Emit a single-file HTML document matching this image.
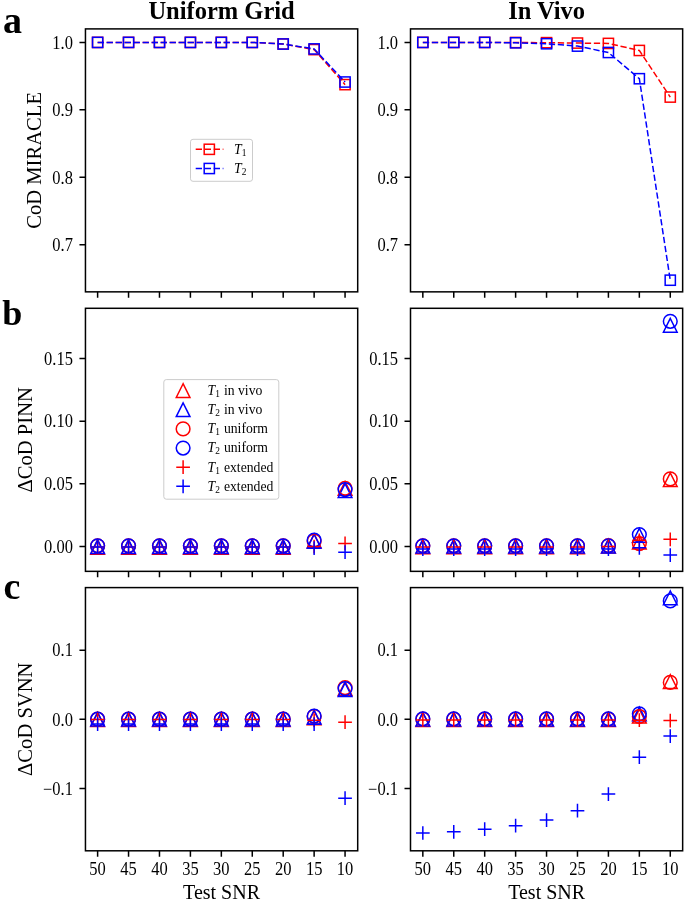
<!DOCTYPE html>
<html><head><meta charset="utf-8"><style>html,body{margin:0;padding:0;background:#fff;}svg{display:block;font-family:"Liberation Serif",serif;will-change:transform;}</style></head><body>
<svg width="685" height="902" viewBox="0 0 685 902" font-family="Liberation Serif, serif">
<rect width="685" height="902" fill="#fff"/>
<text x="221.55" y="18.9" font-size="24.5" font-weight="bold" text-anchor="middle">Uniform Grid</text>
<text x="546.65" y="18.9" font-size="24.5" font-weight="bold" text-anchor="middle">In Vivo</text>
<text x="3" y="33.2" font-size="38" font-weight="bold">a</text>
<text x="2.3" y="325" font-size="36" font-weight="bold">b</text>
<text x="3.6" y="598.6" font-size="38" font-weight="bold">c</text>
<text transform="translate(41.2 160.4) rotate(-90)" font-size="20.6" text-anchor="middle">CoD MIRACLE</text>
<text transform="translate(32.4 439.8) rotate(-90)" font-size="20.6" text-anchor="middle">ΔCoD PINN</text>
<text transform="translate(32.4 719.2) rotate(-90)" font-size="20.6" text-anchor="middle">ΔCoD SVNN</text>
<text x="221.55" y="899.4" font-size="20" text-anchor="middle">Test SNR</text>
<text x="546.65" y="899.4" font-size="20" text-anchor="middle">Test SNR</text>
<clipPath id="aL"><rect x="85.45" y="28.9" width="272.25" height="262.95"/></clipPath>
<clipPath id="aR"><rect x="410.5" y="28.9" width="272.15" height="262.95"/></clipPath>
<clipPath id="bL"><rect x="85.45" y="308.3" width="272.25" height="263.05"/></clipPath>
<clipPath id="bR"><rect x="410.5" y="308.3" width="272.15" height="263.05"/></clipPath>
<clipPath id="cL"><rect x="85.45" y="587.6" width="272.25" height="263.2"/></clipPath>
<clipPath id="cR"><rect x="410.5" y="587.6" width="272.15" height="263.2"/></clipPath>
<g clip-path="url(#aL)">
<polyline points="97.62,42.4 128.55,42.4 159.48,42.4 190.41,42.4 221.34,42.4 252.27,42.4 283.2,44.01 314.13,49.6 345.06,84.63" fill="none" stroke="#ff0000" stroke-width="1.5" stroke-dasharray="6.3 2.7"/>
<rect x="92.52" y="37.3" width="10.2" height="10.2" fill="none" stroke="#ff0000" stroke-width="1.5"/>
<rect x="123.45" y="37.3" width="10.2" height="10.2" fill="none" stroke="#ff0000" stroke-width="1.5"/>
<rect x="154.38" y="37.3" width="10.2" height="10.2" fill="none" stroke="#ff0000" stroke-width="1.5"/>
<rect x="185.31" y="37.3" width="10.2" height="10.2" fill="none" stroke="#ff0000" stroke-width="1.5"/>
<rect x="216.24" y="37.3" width="10.2" height="10.2" fill="none" stroke="#ff0000" stroke-width="1.5"/>
<rect x="247.17" y="37.3" width="10.2" height="10.2" fill="none" stroke="#ff0000" stroke-width="1.5"/>
<rect x="278.1" y="38.91" width="10.2" height="10.2" fill="none" stroke="#ff0000" stroke-width="1.5"/>
<rect x="309.03" y="44.5" width="10.2" height="10.2" fill="none" stroke="#ff0000" stroke-width="1.5"/>
<rect x="339.96" y="79.53" width="10.2" height="10.2" fill="none" stroke="#ff0000" stroke-width="1.5"/>
<polyline points="97.62,42.4 128.55,42.4 159.48,42.4 190.41,42.4 221.34,42.4 252.27,42.4 283.2,44.01 314.13,48.92 345.06,82.01" fill="none" stroke="#0000ff" stroke-width="1.5" stroke-dasharray="6.3 2.7"/>
<rect x="92.52" y="37.3" width="10.2" height="10.2" fill="none" stroke="#0000ff" stroke-width="1.5"/>
<rect x="123.45" y="37.3" width="10.2" height="10.2" fill="none" stroke="#0000ff" stroke-width="1.5"/>
<rect x="154.38" y="37.3" width="10.2" height="10.2" fill="none" stroke="#0000ff" stroke-width="1.5"/>
<rect x="185.31" y="37.3" width="10.2" height="10.2" fill="none" stroke="#0000ff" stroke-width="1.5"/>
<rect x="216.24" y="37.3" width="10.2" height="10.2" fill="none" stroke="#0000ff" stroke-width="1.5"/>
<rect x="247.17" y="37.3" width="10.2" height="10.2" fill="none" stroke="#0000ff" stroke-width="1.5"/>
<rect x="278.1" y="38.91" width="10.2" height="10.2" fill="none" stroke="#0000ff" stroke-width="1.5"/>
<rect x="309.03" y="43.82" width="10.2" height="10.2" fill="none" stroke="#0000ff" stroke-width="1.5"/>
<rect x="339.96" y="76.91" width="10.2" height="10.2" fill="none" stroke="#0000ff" stroke-width="1.5"/>
</g>
<rect x="85.45" y="28.9" width="272.25" height="262.95" fill="none" stroke="#000" stroke-width="1.5" stroke-linejoin="miter"/>
<path d="M97.62 291.85V297.85M128.55 291.85V297.85M159.48 291.85V297.85M190.41 291.85V297.85M221.34 291.85V297.85M252.27 291.85V297.85M283.2 291.85V297.85M314.13 291.85V297.85M345.06 291.85V297.85" stroke="#000" stroke-width="1.5" fill="none"/>
<path d="M79.45 42.4H85.45M79.45 109.85H85.45M79.45 177.3H85.45M79.45 244.75H85.45" stroke="#000" stroke-width="1.5" fill="none"/>
<text transform="translate(72.95 48.6) scale(1 1.09)" font-size="16.5" text-anchor="end">1.0</text>
<text transform="translate(72.95 116.05) scale(1 1.09)" font-size="16.5" text-anchor="end">0.9</text>
<text transform="translate(72.95 183.5) scale(1 1.09)" font-size="16.5" text-anchor="end">0.8</text>
<text transform="translate(72.95 250.95) scale(1 1.09)" font-size="16.5" text-anchor="end">0.7</text>
<g clip-path="url(#aR)">
<polyline points="422.83,42.4 453.76,42.4 484.69,42.4 515.62,42.53 546.55,42.67 577.48,43.07 608.41,43.41 639.34,50.47 670.27,97.07" fill="none" stroke="#ff0000" stroke-width="1.5" stroke-dasharray="6.3 2.7"/>
<rect x="417.73" y="37.3" width="10.2" height="10.2" fill="none" stroke="#ff0000" stroke-width="1.5"/>
<rect x="448.66" y="37.3" width="10.2" height="10.2" fill="none" stroke="#ff0000" stroke-width="1.5"/>
<rect x="479.59" y="37.3" width="10.2" height="10.2" fill="none" stroke="#ff0000" stroke-width="1.5"/>
<rect x="510.52" y="37.43" width="10.2" height="10.2" fill="none" stroke="#ff0000" stroke-width="1.5"/>
<rect x="541.45" y="37.57" width="10.2" height="10.2" fill="none" stroke="#ff0000" stroke-width="1.5"/>
<rect x="572.38" y="37.97" width="10.2" height="10.2" fill="none" stroke="#ff0000" stroke-width="1.5"/>
<rect x="603.31" y="38.31" width="10.2" height="10.2" fill="none" stroke="#ff0000" stroke-width="1.5"/>
<rect x="634.24" y="45.37" width="10.2" height="10.2" fill="none" stroke="#ff0000" stroke-width="1.5"/>
<rect x="665.17" y="91.97" width="10.2" height="10.2" fill="none" stroke="#ff0000" stroke-width="1.5"/>
<polyline points="422.83,42.4 453.76,42.4 484.69,42.4 515.62,42.8 546.55,43.74 577.48,46.1 608.41,52.49 639.34,78.72 670.27,280.2" fill="none" stroke="#0000ff" stroke-width="1.5" stroke-dasharray="6.3 2.7"/>
<rect x="417.73" y="37.3" width="10.2" height="10.2" fill="none" stroke="#0000ff" stroke-width="1.5"/>
<rect x="448.66" y="37.3" width="10.2" height="10.2" fill="none" stroke="#0000ff" stroke-width="1.5"/>
<rect x="479.59" y="37.3" width="10.2" height="10.2" fill="none" stroke="#0000ff" stroke-width="1.5"/>
<rect x="510.52" y="37.7" width="10.2" height="10.2" fill="none" stroke="#0000ff" stroke-width="1.5"/>
<rect x="541.45" y="38.64" width="10.2" height="10.2" fill="none" stroke="#0000ff" stroke-width="1.5"/>
<rect x="572.38" y="41" width="10.2" height="10.2" fill="none" stroke="#0000ff" stroke-width="1.5"/>
<rect x="603.31" y="47.39" width="10.2" height="10.2" fill="none" stroke="#0000ff" stroke-width="1.5"/>
<rect x="634.24" y="73.62" width="10.2" height="10.2" fill="none" stroke="#0000ff" stroke-width="1.5"/>
<rect x="665.17" y="275.1" width="10.2" height="10.2" fill="none" stroke="#0000ff" stroke-width="1.5"/>
</g>
<rect x="410.5" y="28.9" width="272.15" height="262.95" fill="none" stroke="#000" stroke-width="1.5" stroke-linejoin="miter"/>
<path d="M422.83 291.85V297.85M453.76 291.85V297.85M484.69 291.85V297.85M515.62 291.85V297.85M546.55 291.85V297.85M577.48 291.85V297.85M608.41 291.85V297.85M639.34 291.85V297.85M670.27 291.85V297.85" stroke="#000" stroke-width="1.5" fill="none"/>
<path d="M404.5 42.4H410.5M404.5 109.85H410.5M404.5 177.3H410.5M404.5 244.75H410.5" stroke="#000" stroke-width="1.5" fill="none"/>
<text transform="translate(398 48.6) scale(1 1.09)" font-size="16.5" text-anchor="end">1.0</text>
<text transform="translate(398 116.05) scale(1 1.09)" font-size="16.5" text-anchor="end">0.9</text>
<text transform="translate(398 183.5) scale(1 1.09)" font-size="16.5" text-anchor="end">0.8</text>
<text transform="translate(398 250.95) scale(1 1.09)" font-size="16.5" text-anchor="end">0.7</text>
<rect x="190.5" y="139.3" width="62" height="42" rx="2.5" fill="#fff" fill-opacity="0.8" stroke="#cccccc" stroke-width="1"/>
<line x1="195.7" y1="149.3" x2="223.4" y2="149.3" stroke="#ff0000" stroke-width="1.5" stroke-dasharray="6.3 2.7"/>
<rect x="204.2" y="144.2" width="10.2" height="10.2" fill="none" stroke="#ff0000" stroke-width="1.5"/>
<text x="234" y="153.9" font-size="13.7" font-style="italic">T<tspan font-style="normal" font-size="9.4" dy="1.9">1</tspan></text>
<line x1="195.7" y1="168.5" x2="223.4" y2="168.5" stroke="#0000ff" stroke-width="1.5" stroke-dasharray="6.3 2.7"/>
<rect x="204.2" y="163.4" width="10.2" height="10.2" fill="none" stroke="#0000ff" stroke-width="1.5"/>
<text x="234" y="173.1" font-size="13.7" font-style="italic">T<tspan font-style="normal" font-size="9.4" dy="1.9">2</tspan></text>
<g clip-path="url(#bL)">
<path d="M97.62 540.45L90.77 554.15H104.47Z" fill="none" stroke="#ff0000" stroke-width="1.5" stroke-linejoin="miter"/>
<path d="M128.55 540.45L121.7 554.15H135.4Z" fill="none" stroke="#ff0000" stroke-width="1.5" stroke-linejoin="miter"/>
<path d="M159.48 540.45L152.63 554.15H166.33Z" fill="none" stroke="#ff0000" stroke-width="1.5" stroke-linejoin="miter"/>
<path d="M190.41 540.45L183.56 554.15H197.26Z" fill="none" stroke="#ff0000" stroke-width="1.5" stroke-linejoin="miter"/>
<path d="M221.34 540.45L214.49 554.15H228.19Z" fill="none" stroke="#ff0000" stroke-width="1.5" stroke-linejoin="miter"/>
<path d="M252.27 540.45L245.42 554.15H259.12Z" fill="none" stroke="#ff0000" stroke-width="1.5" stroke-linejoin="miter"/>
<path d="M283.2 540.45L276.35 554.15H290.05Z" fill="none" stroke="#ff0000" stroke-width="1.5" stroke-linejoin="miter"/>
<path d="M314.13 534.2L307.28 547.9H320.98Z" fill="none" stroke="#ff0000" stroke-width="1.5" stroke-linejoin="miter"/>
<path d="M345.06 481.57L338.21 495.27H351.91Z" fill="none" stroke="#ff0000" stroke-width="1.5" stroke-linejoin="miter"/>
<path d="M97.62 539.7L90.77 553.4H104.47Z" fill="none" stroke="#0000ff" stroke-width="1.5" stroke-linejoin="miter"/>
<path d="M128.55 539.7L121.7 553.4H135.4Z" fill="none" stroke="#0000ff" stroke-width="1.5" stroke-linejoin="miter"/>
<path d="M159.48 539.7L152.63 553.4H166.33Z" fill="none" stroke="#0000ff" stroke-width="1.5" stroke-linejoin="miter"/>
<path d="M190.41 539.7L183.56 553.4H197.26Z" fill="none" stroke="#0000ff" stroke-width="1.5" stroke-linejoin="miter"/>
<path d="M221.34 539.7L214.49 553.4H228.19Z" fill="none" stroke="#0000ff" stroke-width="1.5" stroke-linejoin="miter"/>
<path d="M252.27 539.7L245.42 553.4H259.12Z" fill="none" stroke="#0000ff" stroke-width="1.5" stroke-linejoin="miter"/>
<path d="M283.2 539.7L276.35 553.4H290.05Z" fill="none" stroke="#0000ff" stroke-width="1.5" stroke-linejoin="miter"/>
<path d="M314.13 534.2L307.28 547.9H320.98Z" fill="none" stroke="#0000ff" stroke-width="1.5" stroke-linejoin="miter"/>
<path d="M345.06 483.7L338.21 497.4H351.91Z" fill="none" stroke="#0000ff" stroke-width="1.5" stroke-linejoin="miter"/>
<circle cx="97.62" cy="545.8" r="6.85" fill="none" stroke="#ff0000" stroke-width="1.5"/>
<circle cx="128.55" cy="545.8" r="6.85" fill="none" stroke="#ff0000" stroke-width="1.5"/>
<circle cx="159.48" cy="545.8" r="6.85" fill="none" stroke="#ff0000" stroke-width="1.5"/>
<circle cx="190.41" cy="545.8" r="6.85" fill="none" stroke="#ff0000" stroke-width="1.5"/>
<circle cx="221.34" cy="545.8" r="6.85" fill="none" stroke="#ff0000" stroke-width="1.5"/>
<circle cx="252.27" cy="545.8" r="6.85" fill="none" stroke="#ff0000" stroke-width="1.5"/>
<circle cx="283.2" cy="545.8" r="6.85" fill="none" stroke="#ff0000" stroke-width="1.5"/>
<circle cx="314.13" cy="541.17" r="6.85" fill="none" stroke="#ff0000" stroke-width="1.5"/>
<circle cx="345.06" cy="488.3" r="6.85" fill="none" stroke="#ff0000" stroke-width="1.5"/>
<circle cx="97.62" cy="545.8" r="6.85" fill="none" stroke="#0000ff" stroke-width="1.5"/>
<circle cx="128.55" cy="545.8" r="6.85" fill="none" stroke="#0000ff" stroke-width="1.5"/>
<circle cx="159.48" cy="545.8" r="6.85" fill="none" stroke="#0000ff" stroke-width="1.5"/>
<circle cx="190.41" cy="545.8" r="6.85" fill="none" stroke="#0000ff" stroke-width="1.5"/>
<circle cx="221.34" cy="545.8" r="6.85" fill="none" stroke="#0000ff" stroke-width="1.5"/>
<circle cx="252.27" cy="545.8" r="6.85" fill="none" stroke="#0000ff" stroke-width="1.5"/>
<circle cx="283.2" cy="545.8" r="6.85" fill="none" stroke="#0000ff" stroke-width="1.5"/>
<circle cx="314.13" cy="540.05" r="6.85" fill="none" stroke="#0000ff" stroke-width="1.5"/>
<circle cx="345.06" cy="489.55" r="6.85" fill="none" stroke="#0000ff" stroke-width="1.5"/>
<path d="M90.77 547.05H104.47M97.62 540.2V553.9" fill="none" stroke="#ff0000" stroke-width="1.5"/>
<path d="M121.7 547.05H135.4M128.55 540.2V553.9" fill="none" stroke="#ff0000" stroke-width="1.5"/>
<path d="M152.63 547.05H166.33M159.48 540.2V553.9" fill="none" stroke="#ff0000" stroke-width="1.5"/>
<path d="M183.56 547.05H197.26M190.41 540.2V553.9" fill="none" stroke="#ff0000" stroke-width="1.5"/>
<path d="M214.49 547.05H228.19M221.34 540.2V553.9" fill="none" stroke="#ff0000" stroke-width="1.5"/>
<path d="M245.42 547.05H259.12M252.27 540.2V553.9" fill="none" stroke="#ff0000" stroke-width="1.5"/>
<path d="M276.35 547.05H290.05M283.2 540.2V553.9" fill="none" stroke="#ff0000" stroke-width="1.5"/>
<path d="M307.28 546.55H320.98M314.13 539.7V553.4" fill="none" stroke="#ff0000" stroke-width="1.5"/>
<path d="M338.21 543.42H351.91M345.06 536.57V550.27" fill="none" stroke="#ff0000" stroke-width="1.5"/>
<path d="M90.77 547.05H104.47M97.62 540.2V553.9" fill="none" stroke="#0000ff" stroke-width="1.5"/>
<path d="M121.7 547.05H135.4M128.55 540.2V553.9" fill="none" stroke="#0000ff" stroke-width="1.5"/>
<path d="M152.63 547.05H166.33M159.48 540.2V553.9" fill="none" stroke="#0000ff" stroke-width="1.5"/>
<path d="M183.56 547.05H197.26M190.41 540.2V553.9" fill="none" stroke="#0000ff" stroke-width="1.5"/>
<path d="M214.49 547.05H228.19M221.34 540.2V553.9" fill="none" stroke="#0000ff" stroke-width="1.5"/>
<path d="M245.42 547.05H259.12M252.27 540.2V553.9" fill="none" stroke="#0000ff" stroke-width="1.5"/>
<path d="M276.35 547.05H290.05M283.2 540.2V553.9" fill="none" stroke="#0000ff" stroke-width="1.5"/>
<path d="M307.28 548.17H320.98M314.13 541.32V555.02" fill="none" stroke="#0000ff" stroke-width="1.5"/>
<path d="M338.21 552.17H351.91M345.06 545.32V559.02" fill="none" stroke="#0000ff" stroke-width="1.5"/>
</g>
<rect x="85.45" y="308.3" width="272.25" height="263.05" fill="none" stroke="#000" stroke-width="1.5" stroke-linejoin="miter"/>
<path d="M97.62 571.35V577.35M128.55 571.35V577.35M159.48 571.35V577.35M190.41 571.35V577.35M221.34 571.35V577.35M252.27 571.35V577.35M283.2 571.35V577.35M314.13 571.35V577.35M345.06 571.35V577.35" stroke="#000" stroke-width="1.5" fill="none"/>
<path d="M79.45 546.53H85.45M79.45 483.84H85.45M79.45 421.15H85.45M79.45 358.46H85.45" stroke="#000" stroke-width="1.5" fill="none"/>
<text transform="translate(72.95 552.73) scale(1 1.09)" font-size="16.5" text-anchor="end">0.00</text>
<text transform="translate(72.95 490.04) scale(1 1.09)" font-size="16.5" text-anchor="end">0.05</text>
<text transform="translate(72.95 427.35) scale(1 1.09)" font-size="16.5" text-anchor="end">0.10</text>
<text transform="translate(72.95 364.66) scale(1 1.09)" font-size="16.5" text-anchor="end">0.15</text>
<g clip-path="url(#bR)">
<path d="M422.83 539.95L415.98 553.65H429.68Z" fill="none" stroke="#ff0000" stroke-width="1.5" stroke-linejoin="miter"/>
<path d="M453.76 539.95L446.91 553.65H460.61Z" fill="none" stroke="#ff0000" stroke-width="1.5" stroke-linejoin="miter"/>
<path d="M484.69 539.95L477.84 553.65H491.54Z" fill="none" stroke="#ff0000" stroke-width="1.5" stroke-linejoin="miter"/>
<path d="M515.62 539.95L508.77 553.65H522.47Z" fill="none" stroke="#ff0000" stroke-width="1.5" stroke-linejoin="miter"/>
<path d="M546.55 539.95L539.7 553.65H553.4Z" fill="none" stroke="#ff0000" stroke-width="1.5" stroke-linejoin="miter"/>
<path d="M577.48 539.95L570.63 553.65H584.33Z" fill="none" stroke="#ff0000" stroke-width="1.5" stroke-linejoin="miter"/>
<path d="M608.41 539.2L601.56 552.9H615.26Z" fill="none" stroke="#ff0000" stroke-width="1.5" stroke-linejoin="miter"/>
<path d="M639.34 535.2L632.49 548.9H646.19Z" fill="none" stroke="#ff0000" stroke-width="1.5" stroke-linejoin="miter"/>
<path d="M670.27 472.82L663.42 486.52H677.12Z" fill="none" stroke="#ff0000" stroke-width="1.5" stroke-linejoin="miter"/>
<path d="M422.83 539.32L415.98 553.02H429.68Z" fill="none" stroke="#0000ff" stroke-width="1.5" stroke-linejoin="miter"/>
<path d="M453.76 539.32L446.91 553.02H460.61Z" fill="none" stroke="#0000ff" stroke-width="1.5" stroke-linejoin="miter"/>
<path d="M484.69 539.32L477.84 553.02H491.54Z" fill="none" stroke="#0000ff" stroke-width="1.5" stroke-linejoin="miter"/>
<path d="M515.62 539.32L508.77 553.02H522.47Z" fill="none" stroke="#0000ff" stroke-width="1.5" stroke-linejoin="miter"/>
<path d="M546.55 539.32L539.7 553.02H553.4Z" fill="none" stroke="#0000ff" stroke-width="1.5" stroke-linejoin="miter"/>
<path d="M577.48 539.32L570.63 553.02H584.33Z" fill="none" stroke="#0000ff" stroke-width="1.5" stroke-linejoin="miter"/>
<path d="M608.41 539.32L601.56 553.02H615.26Z" fill="none" stroke="#0000ff" stroke-width="1.5" stroke-linejoin="miter"/>
<path d="M639.34 528.45L632.49 542.15H646.19Z" fill="none" stroke="#0000ff" stroke-width="1.5" stroke-linejoin="miter"/>
<path d="M670.27 318.45L663.42 332.15H677.12Z" fill="none" stroke="#0000ff" stroke-width="1.5" stroke-linejoin="miter"/>
<circle cx="422.83" cy="545.8" r="6.85" fill="none" stroke="#ff0000" stroke-width="1.5"/>
<circle cx="453.76" cy="545.8" r="6.85" fill="none" stroke="#ff0000" stroke-width="1.5"/>
<circle cx="484.69" cy="545.8" r="6.85" fill="none" stroke="#ff0000" stroke-width="1.5"/>
<circle cx="515.62" cy="545.8" r="6.85" fill="none" stroke="#ff0000" stroke-width="1.5"/>
<circle cx="546.55" cy="545.8" r="6.85" fill="none" stroke="#ff0000" stroke-width="1.5"/>
<circle cx="577.48" cy="545.8" r="6.85" fill="none" stroke="#ff0000" stroke-width="1.5"/>
<circle cx="608.41" cy="545.55" r="6.85" fill="none" stroke="#ff0000" stroke-width="1.5"/>
<circle cx="639.34" cy="543.55" r="6.85" fill="none" stroke="#ff0000" stroke-width="1.5"/>
<circle cx="670.27" cy="478.92" r="6.85" fill="none" stroke="#ff0000" stroke-width="1.5"/>
<circle cx="422.83" cy="545.8" r="6.85" fill="none" stroke="#0000ff" stroke-width="1.5"/>
<circle cx="453.76" cy="545.8" r="6.85" fill="none" stroke="#0000ff" stroke-width="1.5"/>
<circle cx="484.69" cy="545.8" r="6.85" fill="none" stroke="#0000ff" stroke-width="1.5"/>
<circle cx="515.62" cy="545.8" r="6.85" fill="none" stroke="#0000ff" stroke-width="1.5"/>
<circle cx="546.55" cy="545.8" r="6.85" fill="none" stroke="#0000ff" stroke-width="1.5"/>
<circle cx="577.48" cy="545.8" r="6.85" fill="none" stroke="#0000ff" stroke-width="1.5"/>
<circle cx="608.41" cy="545.8" r="6.85" fill="none" stroke="#0000ff" stroke-width="1.5"/>
<circle cx="639.34" cy="534.55" r="6.85" fill="none" stroke="#0000ff" stroke-width="1.5"/>
<circle cx="670.27" cy="321.3" r="6.85" fill="none" stroke="#0000ff" stroke-width="1.5"/>
<path d="M415.98 546.92H429.68M422.83 540.07V553.77" fill="none" stroke="#ff0000" stroke-width="1.5"/>
<path d="M446.91 546.92H460.61M453.76 540.07V553.77" fill="none" stroke="#ff0000" stroke-width="1.5"/>
<path d="M477.84 546.92H491.54M484.69 540.07V553.77" fill="none" stroke="#ff0000" stroke-width="1.5"/>
<path d="M508.77 546.92H522.47M515.62 540.07V553.77" fill="none" stroke="#ff0000" stroke-width="1.5"/>
<path d="M539.7 546.92H553.4M546.55 540.07V553.77" fill="none" stroke="#ff0000" stroke-width="1.5"/>
<path d="M570.63 546.92H584.33M577.48 540.07V553.77" fill="none" stroke="#ff0000" stroke-width="1.5"/>
<path d="M601.56 546.42H615.26M608.41 539.57V553.27" fill="none" stroke="#ff0000" stroke-width="1.5"/>
<path d="M632.49 540.3H646.19M639.34 533.45V547.15" fill="none" stroke="#ff0000" stroke-width="1.5"/>
<path d="M663.42 539.3H677.12M670.27 532.45V546.15" fill="none" stroke="#ff0000" stroke-width="1.5"/>
<path d="M415.98 549.05H429.68M422.83 542.2V555.9" fill="none" stroke="#0000ff" stroke-width="1.5"/>
<path d="M446.91 549.05H460.61M453.76 542.2V555.9" fill="none" stroke="#0000ff" stroke-width="1.5"/>
<path d="M477.84 549.05H491.54M484.69 542.2V555.9" fill="none" stroke="#0000ff" stroke-width="1.5"/>
<path d="M508.77 549.05H522.47M515.62 542.2V555.9" fill="none" stroke="#0000ff" stroke-width="1.5"/>
<path d="M539.7 549.05H553.4M546.55 542.2V555.9" fill="none" stroke="#0000ff" stroke-width="1.5"/>
<path d="M570.63 549.05H584.33M577.48 542.2V555.9" fill="none" stroke="#0000ff" stroke-width="1.5"/>
<path d="M601.56 549.05H615.26M608.41 542.2V555.9" fill="none" stroke="#0000ff" stroke-width="1.5"/>
<path d="M632.49 547.8H646.19M639.34 540.95V554.65" fill="none" stroke="#0000ff" stroke-width="1.5"/>
<path d="M663.42 555.05H677.12M670.27 548.2V561.9" fill="none" stroke="#0000ff" stroke-width="1.5"/>
</g>
<rect x="410.5" y="308.3" width="272.15" height="263.05" fill="none" stroke="#000" stroke-width="1.5" stroke-linejoin="miter"/>
<path d="M422.83 571.35V577.35M453.76 571.35V577.35M484.69 571.35V577.35M515.62 571.35V577.35M546.55 571.35V577.35M577.48 571.35V577.35M608.41 571.35V577.35M639.34 571.35V577.35M670.27 571.35V577.35" stroke="#000" stroke-width="1.5" fill="none"/>
<path d="M404.5 546.53H410.5M404.5 483.84H410.5M404.5 421.15H410.5M404.5 358.46H410.5" stroke="#000" stroke-width="1.5" fill="none"/>
<text transform="translate(398 552.73) scale(1 1.09)" font-size="16.5" text-anchor="end">0.00</text>
<text transform="translate(398 490.04) scale(1 1.09)" font-size="16.5" text-anchor="end">0.05</text>
<text transform="translate(398 427.35) scale(1 1.09)" font-size="16.5" text-anchor="end">0.10</text>
<text transform="translate(398 364.66) scale(1 1.09)" font-size="16.5" text-anchor="end">0.15</text>
<rect x="163.8" y="379.6" width="115" height="119.6" rx="2.5" fill="#fff" fill-opacity="0.8" stroke="#cccccc" stroke-width="1"/>
<path d="M183.1 383.75L176.25 397.45H189.95Z" fill="none" stroke="#ff0000" stroke-width="1.5" stroke-linejoin="miter"/>
<text x="207.6" y="395" font-size="13.7"><tspan font-style="italic">T</tspan><tspan font-size="9.4" dy="1.9">1</tspan><tspan dy="-1.9" dx="0.6"> in vivo</tspan></text>
<path d="M183.1 402.9L176.25 416.6H189.95Z" fill="none" stroke="#0000ff" stroke-width="1.5" stroke-linejoin="miter"/>
<text x="207.6" y="414.15" font-size="13.7"><tspan font-style="italic">T</tspan><tspan font-size="9.4" dy="1.9">2</tspan><tspan dy="-1.9" dx="0.6"> in vivo</tspan></text>
<circle cx="183.1" cy="428.9" r="6.85" fill="none" stroke="#ff0000" stroke-width="1.5"/>
<text x="207.6" y="433.3" font-size="13.7"><tspan font-style="italic">T</tspan><tspan font-size="9.4" dy="1.9">1</tspan><tspan dy="-1.9" dx="0.6"> uniform</tspan></text>
<circle cx="183.1" cy="448.05" r="6.85" fill="none" stroke="#0000ff" stroke-width="1.5"/>
<text x="207.6" y="452.45" font-size="13.7"><tspan font-style="italic">T</tspan><tspan font-size="9.4" dy="1.9">2</tspan><tspan dy="-1.9" dx="0.6"> uniform</tspan></text>
<path d="M176.25 467.2H189.95M183.1 460.35V474.05" fill="none" stroke="#ff0000" stroke-width="1.5"/>
<text x="207.6" y="471.6" font-size="13.7"><tspan font-style="italic">T</tspan><tspan font-size="9.4" dy="1.9">1</tspan><tspan dy="-1.9" dx="0.6"> extended</tspan></text>
<path d="M176.25 486.35H189.95M183.1 479.5V493.2" fill="none" stroke="#0000ff" stroke-width="1.5"/>
<text x="207.6" y="490.75" font-size="13.7"><tspan font-style="italic">T</tspan><tspan font-size="9.4" dy="1.9">2</tspan><tspan dy="-1.9" dx="0.6"> extended</tspan></text>
<g clip-path="url(#cL)">
<path d="M97.62 712.7L90.77 726.4H104.47Z" fill="none" stroke="#ff0000" stroke-width="1.5" stroke-linejoin="miter"/>
<path d="M128.55 712.7L121.7 726.4H135.4Z" fill="none" stroke="#ff0000" stroke-width="1.5" stroke-linejoin="miter"/>
<path d="M159.48 712.7L152.63 726.4H166.33Z" fill="none" stroke="#ff0000" stroke-width="1.5" stroke-linejoin="miter"/>
<path d="M190.41 712.7L183.56 726.4H197.26Z" fill="none" stroke="#ff0000" stroke-width="1.5" stroke-linejoin="miter"/>
<path d="M221.34 712.7L214.49 726.4H228.19Z" fill="none" stroke="#ff0000" stroke-width="1.5" stroke-linejoin="miter"/>
<path d="M252.27 712.7L245.42 726.4H259.12Z" fill="none" stroke="#ff0000" stroke-width="1.5" stroke-linejoin="miter"/>
<path d="M283.2 712.7L276.35 726.4H290.05Z" fill="none" stroke="#ff0000" stroke-width="1.5" stroke-linejoin="miter"/>
<path d="M314.13 710.96L307.28 724.66H320.98Z" fill="none" stroke="#ff0000" stroke-width="1.5" stroke-linejoin="miter"/>
<path d="M345.06 681.73L338.21 695.43H351.91Z" fill="none" stroke="#ff0000" stroke-width="1.5" stroke-linejoin="miter"/>
<path d="M97.62 712.35L90.77 726.05H104.47Z" fill="none" stroke="#0000ff" stroke-width="1.5" stroke-linejoin="miter"/>
<path d="M128.55 712.35L121.7 726.05H135.4Z" fill="none" stroke="#0000ff" stroke-width="1.5" stroke-linejoin="miter"/>
<path d="M159.48 712.35L152.63 726.05H166.33Z" fill="none" stroke="#0000ff" stroke-width="1.5" stroke-linejoin="miter"/>
<path d="M190.41 712.35L183.56 726.05H197.26Z" fill="none" stroke="#0000ff" stroke-width="1.5" stroke-linejoin="miter"/>
<path d="M221.34 712.35L214.49 726.05H228.19Z" fill="none" stroke="#0000ff" stroke-width="1.5" stroke-linejoin="miter"/>
<path d="M252.27 712.35L245.42 726.05H259.12Z" fill="none" stroke="#0000ff" stroke-width="1.5" stroke-linejoin="miter"/>
<path d="M283.2 712.35L276.35 726.05H290.05Z" fill="none" stroke="#0000ff" stroke-width="1.5" stroke-linejoin="miter"/>
<path d="M314.13 710.26L307.28 723.96H320.98Z" fill="none" stroke="#0000ff" stroke-width="1.5" stroke-linejoin="miter"/>
<path d="M345.06 682.84L338.21 696.54H351.91Z" fill="none" stroke="#0000ff" stroke-width="1.5" stroke-linejoin="miter"/>
<circle cx="97.62" cy="719.2" r="6.85" fill="none" stroke="#ff0000" stroke-width="1.5"/>
<circle cx="128.55" cy="719.2" r="6.85" fill="none" stroke="#ff0000" stroke-width="1.5"/>
<circle cx="159.48" cy="719.2" r="6.85" fill="none" stroke="#ff0000" stroke-width="1.5"/>
<circle cx="190.41" cy="719.2" r="6.85" fill="none" stroke="#ff0000" stroke-width="1.5"/>
<circle cx="221.34" cy="719.2" r="6.85" fill="none" stroke="#ff0000" stroke-width="1.5"/>
<circle cx="252.27" cy="719.2" r="6.85" fill="none" stroke="#ff0000" stroke-width="1.5"/>
<circle cx="283.2" cy="719.2" r="6.85" fill="none" stroke="#ff0000" stroke-width="1.5"/>
<circle cx="314.13" cy="716.42" r="6.85" fill="none" stroke="#ff0000" stroke-width="1.5"/>
<circle cx="345.06" cy="687.6" r="6.85" fill="none" stroke="#ff0000" stroke-width="1.5"/>
<circle cx="97.62" cy="719.2" r="6.85" fill="none" stroke="#0000ff" stroke-width="1.5"/>
<circle cx="128.55" cy="719.2" r="6.85" fill="none" stroke="#0000ff" stroke-width="1.5"/>
<circle cx="159.48" cy="719.2" r="6.85" fill="none" stroke="#0000ff" stroke-width="1.5"/>
<circle cx="190.41" cy="719.2" r="6.85" fill="none" stroke="#0000ff" stroke-width="1.5"/>
<circle cx="221.34" cy="719.2" r="6.85" fill="none" stroke="#0000ff" stroke-width="1.5"/>
<circle cx="252.27" cy="719.2" r="6.85" fill="none" stroke="#0000ff" stroke-width="1.5"/>
<circle cx="283.2" cy="719.2" r="6.85" fill="none" stroke="#0000ff" stroke-width="1.5"/>
<circle cx="314.13" cy="716" r="6.85" fill="none" stroke="#0000ff" stroke-width="1.5"/>
<circle cx="345.06" cy="688.58" r="6.85" fill="none" stroke="#0000ff" stroke-width="1.5"/>
<path d="M90.77 719.62H104.47M97.62 712.77V726.47" fill="none" stroke="#ff0000" stroke-width="1.5"/>
<path d="M121.7 719.62H135.4M128.55 712.77V726.47" fill="none" stroke="#ff0000" stroke-width="1.5"/>
<path d="M152.63 719.62H166.33M159.48 712.77V726.47" fill="none" stroke="#ff0000" stroke-width="1.5"/>
<path d="M183.56 719.62H197.26M190.41 712.77V726.47" fill="none" stroke="#ff0000" stroke-width="1.5"/>
<path d="M214.49 719.62H228.19M221.34 712.77V726.47" fill="none" stroke="#ff0000" stroke-width="1.5"/>
<path d="M245.42 719.62H259.12M252.27 712.77V726.47" fill="none" stroke="#ff0000" stroke-width="1.5"/>
<path d="M276.35 719.62H290.05M283.2 712.77V726.47" fill="none" stroke="#ff0000" stroke-width="1.5"/>
<path d="M307.28 720.31H320.98M314.13 713.46V727.16" fill="none" stroke="#ff0000" stroke-width="1.5"/>
<path d="M338.21 722.19H351.91M345.06 715.34V729.04" fill="none" stroke="#ff0000" stroke-width="1.5"/>
<path d="M90.77 724.07H104.47M97.62 717.22V730.92" fill="none" stroke="#0000ff" stroke-width="1.5"/>
<path d="M121.7 724.07H135.4M128.55 717.22V730.92" fill="none" stroke="#0000ff" stroke-width="1.5"/>
<path d="M152.63 724.07H166.33M159.48 717.22V730.92" fill="none" stroke="#0000ff" stroke-width="1.5"/>
<path d="M183.56 724.07H197.26M190.41 717.22V730.92" fill="none" stroke="#0000ff" stroke-width="1.5"/>
<path d="M214.49 724.07H228.19M221.34 717.22V730.92" fill="none" stroke="#0000ff" stroke-width="1.5"/>
<path d="M245.42 724.07H259.12M252.27 717.22V730.92" fill="none" stroke="#0000ff" stroke-width="1.5"/>
<path d="M276.35 724.07H290.05M283.2 717.22V730.92" fill="none" stroke="#0000ff" stroke-width="1.5"/>
<path d="M307.28 724.21H320.98M314.13 717.36V731.06" fill="none" stroke="#0000ff" stroke-width="1.5"/>
<path d="M338.21 798.2H351.91M345.06 791.35V805.05" fill="none" stroke="#0000ff" stroke-width="1.5"/>
</g>
<rect x="85.45" y="587.6" width="272.25" height="263.2" fill="none" stroke="#000" stroke-width="1.5" stroke-linejoin="miter"/>
<path d="M97.62 850.8V856.8M128.55 850.8V856.8M159.48 850.8V856.8M190.41 850.8V856.8M221.34 850.8V856.8M252.27 850.8V856.8M283.2 850.8V856.8M314.13 850.8V856.8M345.06 850.8V856.8" stroke="#000" stroke-width="1.5" fill="none"/>
<text transform="translate(97.62 874.9) scale(1 1.09)" font-size="16.5" text-anchor="middle">50</text>
<text transform="translate(128.55 874.9) scale(1 1.09)" font-size="16.5" text-anchor="middle">45</text>
<text transform="translate(159.48 874.9) scale(1 1.09)" font-size="16.5" text-anchor="middle">40</text>
<text transform="translate(190.41 874.9) scale(1 1.09)" font-size="16.5" text-anchor="middle">35</text>
<text transform="translate(221.34 874.9) scale(1 1.09)" font-size="16.5" text-anchor="middle">30</text>
<text transform="translate(252.27 874.9) scale(1 1.09)" font-size="16.5" text-anchor="middle">25</text>
<text transform="translate(283.2 874.9) scale(1 1.09)" font-size="16.5" text-anchor="middle">20</text>
<text transform="translate(314.13 874.9) scale(1 1.09)" font-size="16.5" text-anchor="middle">15</text>
<text transform="translate(345.06 874.9) scale(1 1.09)" font-size="16.5" text-anchor="middle">10</text>
<path d="M79.45 788.53H85.45M79.45 719.33H85.45M79.45 650.13H85.45" stroke="#000" stroke-width="1.5" fill="none"/>
<text transform="translate(72.95 794.73) scale(1 1.09)" font-size="16.5" text-anchor="end">−0.1</text>
<text transform="translate(72.95 725.53) scale(1 1.09)" font-size="16.5" text-anchor="end">0.0</text>
<text transform="translate(72.95 656.33) scale(1 1.09)" font-size="16.5" text-anchor="end">0.1</text>
<g clip-path="url(#cR)">
<path d="M422.83 712.7L415.98 726.4H429.68Z" fill="none" stroke="#ff0000" stroke-width="1.5" stroke-linejoin="miter"/>
<path d="M453.76 712.7L446.91 726.4H460.61Z" fill="none" stroke="#ff0000" stroke-width="1.5" stroke-linejoin="miter"/>
<path d="M484.69 712.7L477.84 726.4H491.54Z" fill="none" stroke="#ff0000" stroke-width="1.5" stroke-linejoin="miter"/>
<path d="M515.62 712.7L508.77 726.4H522.47Z" fill="none" stroke="#ff0000" stroke-width="1.5" stroke-linejoin="miter"/>
<path d="M546.55 712.7L539.7 726.4H553.4Z" fill="none" stroke="#ff0000" stroke-width="1.5" stroke-linejoin="miter"/>
<path d="M577.48 712.7L570.63 726.4H584.33Z" fill="none" stroke="#ff0000" stroke-width="1.5" stroke-linejoin="miter"/>
<path d="M608.41 712.7L601.56 726.4H615.26Z" fill="none" stroke="#ff0000" stroke-width="1.5" stroke-linejoin="miter"/>
<path d="M639.34 709.22L632.49 722.92H646.19Z" fill="none" stroke="#ff0000" stroke-width="1.5" stroke-linejoin="miter"/>
<path d="M670.27 674.77L663.42 688.47H677.12Z" fill="none" stroke="#ff0000" stroke-width="1.5" stroke-linejoin="miter"/>
<path d="M422.83 712.35L415.98 726.05H429.68Z" fill="none" stroke="#0000ff" stroke-width="1.5" stroke-linejoin="miter"/>
<path d="M453.76 712.35L446.91 726.05H460.61Z" fill="none" stroke="#0000ff" stroke-width="1.5" stroke-linejoin="miter"/>
<path d="M484.69 712.35L477.84 726.05H491.54Z" fill="none" stroke="#0000ff" stroke-width="1.5" stroke-linejoin="miter"/>
<path d="M515.62 712.35L508.77 726.05H522.47Z" fill="none" stroke="#0000ff" stroke-width="1.5" stroke-linejoin="miter"/>
<path d="M546.55 712.35L539.7 726.05H553.4Z" fill="none" stroke="#0000ff" stroke-width="1.5" stroke-linejoin="miter"/>
<path d="M577.48 712.35L570.63 726.05H584.33Z" fill="none" stroke="#0000ff" stroke-width="1.5" stroke-linejoin="miter"/>
<path d="M608.41 712.35L601.56 726.05H615.26Z" fill="none" stroke="#0000ff" stroke-width="1.5" stroke-linejoin="miter"/>
<path d="M639.34 707.13L632.49 720.83H646.19Z" fill="none" stroke="#0000ff" stroke-width="1.5" stroke-linejoin="miter"/>
<path d="M670.27 590.97L663.42 604.67H677.12Z" fill="none" stroke="#0000ff" stroke-width="1.5" stroke-linejoin="miter"/>
<circle cx="422.83" cy="719.2" r="6.85" fill="none" stroke="#ff0000" stroke-width="1.5"/>
<circle cx="453.76" cy="719.2" r="6.85" fill="none" stroke="#ff0000" stroke-width="1.5"/>
<circle cx="484.69" cy="719.2" r="6.85" fill="none" stroke="#ff0000" stroke-width="1.5"/>
<circle cx="515.62" cy="719.2" r="6.85" fill="none" stroke="#ff0000" stroke-width="1.5"/>
<circle cx="546.55" cy="719.2" r="6.85" fill="none" stroke="#ff0000" stroke-width="1.5"/>
<circle cx="577.48" cy="719.2" r="6.85" fill="none" stroke="#ff0000" stroke-width="1.5"/>
<circle cx="608.41" cy="719.2" r="6.85" fill="none" stroke="#ff0000" stroke-width="1.5"/>
<circle cx="639.34" cy="716.49" r="6.85" fill="none" stroke="#ff0000" stroke-width="1.5"/>
<circle cx="670.27" cy="682.38" r="6.85" fill="none" stroke="#ff0000" stroke-width="1.5"/>
<circle cx="422.83" cy="718.78" r="6.85" fill="none" stroke="#0000ff" stroke-width="1.5"/>
<circle cx="453.76" cy="718.78" r="6.85" fill="none" stroke="#0000ff" stroke-width="1.5"/>
<circle cx="484.69" cy="718.78" r="6.85" fill="none" stroke="#0000ff" stroke-width="1.5"/>
<circle cx="515.62" cy="718.78" r="6.85" fill="none" stroke="#0000ff" stroke-width="1.5"/>
<circle cx="546.55" cy="718.78" r="6.85" fill="none" stroke="#0000ff" stroke-width="1.5"/>
<circle cx="577.48" cy="718.78" r="6.85" fill="none" stroke="#0000ff" stroke-width="1.5"/>
<circle cx="608.41" cy="718.78" r="6.85" fill="none" stroke="#0000ff" stroke-width="1.5"/>
<circle cx="639.34" cy="713.77" r="6.85" fill="none" stroke="#0000ff" stroke-width="1.5"/>
<circle cx="670.27" cy="600.88" r="6.85" fill="none" stroke="#0000ff" stroke-width="1.5"/>
<path d="M415.98 719.9H429.68M422.83 713.05V726.75" fill="none" stroke="#ff0000" stroke-width="1.5"/>
<path d="M446.91 719.9H460.61M453.76 713.05V726.75" fill="none" stroke="#ff0000" stroke-width="1.5"/>
<path d="M477.84 719.9H491.54M484.69 713.05V726.75" fill="none" stroke="#ff0000" stroke-width="1.5"/>
<path d="M508.77 719.9H522.47M515.62 713.05V726.75" fill="none" stroke="#ff0000" stroke-width="1.5"/>
<path d="M539.7 719.9H553.4M546.55 713.05V726.75" fill="none" stroke="#ff0000" stroke-width="1.5"/>
<path d="M570.63 719.9H584.33M577.48 713.05V726.75" fill="none" stroke="#ff0000" stroke-width="1.5"/>
<path d="M601.56 719.9H615.26M608.41 713.05V726.75" fill="none" stroke="#ff0000" stroke-width="1.5"/>
<path d="M632.49 720.17H646.19M639.34 713.32V727.02" fill="none" stroke="#ff0000" stroke-width="1.5"/>
<path d="M663.42 720.59H677.12M670.27 713.74V727.44" fill="none" stroke="#ff0000" stroke-width="1.5"/>
<path d="M415.98 833H429.68M422.83 826.15V839.85" fill="none" stroke="#0000ff" stroke-width="1.5"/>
<path d="M446.91 831.81H460.61M453.76 824.96V838.66" fill="none" stroke="#0000ff" stroke-width="1.5"/>
<path d="M477.84 829.17H491.54M484.69 822.32V836.02" fill="none" stroke="#0000ff" stroke-width="1.5"/>
<path d="M508.77 825.69H522.47M515.62 818.84V832.54" fill="none" stroke="#0000ff" stroke-width="1.5"/>
<path d="M539.7 820.12H553.4M546.55 813.27V826.97" fill="none" stroke="#0000ff" stroke-width="1.5"/>
<path d="M570.63 810.72H584.33M577.48 803.87V817.57" fill="none" stroke="#0000ff" stroke-width="1.5"/>
<path d="M601.56 794.09H615.26M608.41 787.24V800.94" fill="none" stroke="#0000ff" stroke-width="1.5"/>
<path d="M632.49 757.2H646.19M639.34 750.35V764.05" fill="none" stroke="#0000ff" stroke-width="1.5"/>
<path d="M663.42 736.11H677.12M670.27 729.26V742.96" fill="none" stroke="#0000ff" stroke-width="1.5"/>
</g>
<rect x="410.5" y="587.6" width="272.15" height="263.2" fill="none" stroke="#000" stroke-width="1.5" stroke-linejoin="miter"/>
<path d="M422.83 850.8V856.8M453.76 850.8V856.8M484.69 850.8V856.8M515.62 850.8V856.8M546.55 850.8V856.8M577.48 850.8V856.8M608.41 850.8V856.8M639.34 850.8V856.8M670.27 850.8V856.8" stroke="#000" stroke-width="1.5" fill="none"/>
<text transform="translate(422.83 874.9) scale(1 1.09)" font-size="16.5" text-anchor="middle">50</text>
<text transform="translate(453.76 874.9) scale(1 1.09)" font-size="16.5" text-anchor="middle">45</text>
<text transform="translate(484.69 874.9) scale(1 1.09)" font-size="16.5" text-anchor="middle">40</text>
<text transform="translate(515.62 874.9) scale(1 1.09)" font-size="16.5" text-anchor="middle">35</text>
<text transform="translate(546.55 874.9) scale(1 1.09)" font-size="16.5" text-anchor="middle">30</text>
<text transform="translate(577.48 874.9) scale(1 1.09)" font-size="16.5" text-anchor="middle">25</text>
<text transform="translate(608.41 874.9) scale(1 1.09)" font-size="16.5" text-anchor="middle">20</text>
<text transform="translate(639.34 874.9) scale(1 1.09)" font-size="16.5" text-anchor="middle">15</text>
<text transform="translate(670.27 874.9) scale(1 1.09)" font-size="16.5" text-anchor="middle">10</text>
<path d="M404.5 788.53H410.5M404.5 719.33H410.5M404.5 650.13H410.5" stroke="#000" stroke-width="1.5" fill="none"/>
<text transform="translate(398 794.73) scale(1 1.09)" font-size="16.5" text-anchor="end">−0.1</text>
<text transform="translate(398 725.53) scale(1 1.09)" font-size="16.5" text-anchor="end">0.0</text>
<text transform="translate(398 656.33) scale(1 1.09)" font-size="16.5" text-anchor="end">0.1</text>
</svg>
</body></html>
